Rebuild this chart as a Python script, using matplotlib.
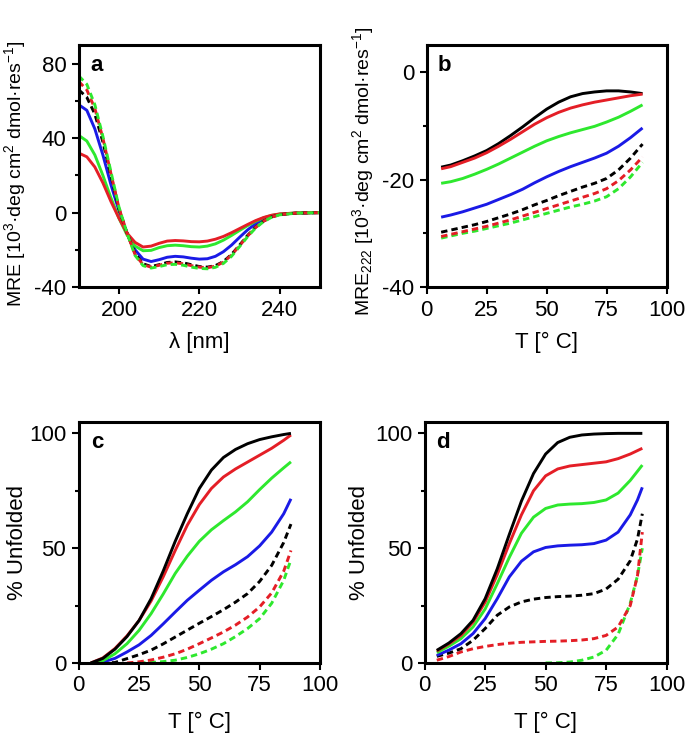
import matplotlib
matplotlib.use("Agg")
import matplotlib.pyplot as plt
from matplotlib.ticker import MultipleLocator

plt.rcParams['font.family'] = ['Liberation Sans', 'DejaVu Sans']
plt.rcParams['mathtext.fontset'] = 'custom'
plt.rcParams['mathtext.rm'] = 'Liberation Sans'
plt.rcParams['mathtext.it'] = 'Liberation Sans:italic'
plt.rcParams['font.size'] = 16
plt.rcParams['axes.unicode_minus'] = False

RED = '#e41e26'
GREEN = '#2ee82e'
BLUE = '#1a1ae6'
BLACK = 'black'

# panel a: CD spectra
wl = [190, 192, 194, 196, 198, 200, 202, 204, 206, 208, 210, 212, 214, 216,
      218, 220, 222, 224, 226, 228, 230, 232, 234, 236, 238, 240, 244, 250]
a_red = [32, 30, 24.5, 16, 6, -3, -11, -16, -18.5, -18, -16.5, -15.3, -15, -15.2,
         -15.6, -15.7, -15.3, -14.3, -12.8, -10.8, -8.6, -6.4, -4.3, -2.6, -1.4, -0.7, -0.2, 0]
a_green = [41.5, 38.5, 31, 20, 8, -3, -12, -18, -20.5, -20.3, -18.8, -17.8, -17.5, -17.8,
           -18.3, -18.5, -18, -16.8, -14.8, -12.3, -9.6, -7, -4.7, -2.8, -1.5, -0.8, -0.2, 0]
a_blue = [58, 55, 45, 31, 15, 1, -11, -20, -25, -26.3, -25.3, -24, -23.5, -23.8,
          -24.5, -25, -24.8, -23.5, -21, -17.5, -13.3, -9.3, -6, -3.5, -1.8, -0.9, -0.3, 0]
a_black_d = [66, 62, 53, 38, 20, 2, -11, -22, -27.5, -29, -28, -26.8, -26.5, -27,
             -28, -29, -29.3, -28.5, -26.3, -22.5, -17.5, -12.3, -7.8, -4.5, -2.3, -1.1, -0.3, 0]
a_red_d = [70.5, 66, 56, 40, 21, 2.5, -11, -22.5, -28, -29.3, -28.3, -27.2, -27, -27.5,
           -28.5, -29.3, -29.6, -28.8, -26.6, -22.8, -17.8, -12.6, -8, -4.6, -2.4, -1.1, -0.3, 0]
a_green_d = [73.5, 69, 58, 41, 22, 3, -11, -23, -28.5, -29.8, -29, -28, -27.8, -28.3,
             -29.3, -30, -30.2, -29.4, -27.3, -23.5, -18.3, -13, -8.3, -4.8, -2.5, -1.2, -0.3, 0]

# panel b: MRE222 vs temperature
tb = [6, 10, 15, 20, 25, 30, 35, 40, 45, 50, 55, 60, 65, 70, 75, 80, 85, 90]
b_black = [-17.7, -17.3, -16.5, -15.6, -14.6, -13.3, -11.8, -10.2, -8.5, -6.9, -5.6, -4.6,
           -4.0, -3.7, -3.5, -3.5, -3.7, -4.0]
b_red = [-18, -17.6, -16.8, -16.0, -15.0, -13.8, -12.5, -11.1, -9.7, -8.5, -7.5, -6.7,
         -6.1, -5.6, -5.2, -4.8, -4.4, -4.1]
b_green = [-20.7, -20.4, -19.8, -19.0, -18.1, -17.1, -16.0, -14.9, -13.8, -12.8, -12.0, -11.3,
           -10.7, -10.1, -9.3, -8.4, -7.3, -6.1]
b_blue = [-27, -26.6, -26.0, -25.3, -24.6, -23.7, -22.8, -21.8, -20.6, -19.5, -18.5, -17.6,
          -16.8, -16.0, -15.1, -13.8, -12.2, -10.4]
b_black_d = [-29.8, -29.4, -28.9, -28.4, -27.8, -27.1, -26.4, -25.6, -24.7, -23.9, -23.0, -22.2,
             -21.4, -20.7, -19.8, -18.2, -16.0, -13.4]
b_red_d = [-30.6, -30.2, -29.7, -29.2, -28.7, -28.1, -27.5, -26.8, -26.1, -25.4, -24.7, -24.0,
           -23.3, -22.6, -21.7, -20.2, -18.2, -15.8]
b_green_d = [-30.9, -30.5, -30.0, -29.6, -29.1, -28.6, -28.1, -27.5, -26.9, -26.3, -25.7, -25.1,
             -24.6, -24.0, -23.2, -21.7, -19.5, -16.8]

# panel c: % unfolded
tc = [5, 10, 15, 20, 25, 30, 35, 40, 45, 50, 55, 60, 65, 70, 75, 80, 85, 88]
c_black = [0, 2, 6, 11.5, 18.5, 28, 40, 53, 65, 76, 84, 89.5, 93, 95.5, 97.3, 98.5, 99.5, 100]
c_red = [0, 2.2, 6.3, 11.8, 18.5, 27, 37.5, 49, 60, 69, 76, 81, 84.5, 87.5, 90.5, 93.5, 97, 99.3]
c_green = [0, 1, 4, 8.4, 14.2, 21.5, 30, 39, 46.5, 53, 58, 62, 65.8, 70.2, 75.5, 80.5, 85, 87.6]
c_blue = [0, 0.4, 2, 4.8, 7.9, 12, 17, 22.2, 27.3, 31.7, 36, 39.7, 42.8, 46.3, 51, 57, 65, 71.5]
c_black_d = [0, 0, 0.2, 1.9, 3.6, 5.6, 8.3, 11.3, 14.3, 17.3, 20.2, 23.2, 26.5, 30.2, 35.5, 42.5, 52.5, 60.5]
tc_red_d = [20, 25, 30, 35, 40, 45, 50, 55, 60, 65, 70, 75, 80, 85, 88]
c_red_d = [0, 0.5, 1.3, 2.5, 4, 6, 8.4, 10.9, 13.5, 16.5, 20, 24.4, 30.5, 40, 49]
tc_green_d = [25, 30, 35, 40, 45, 50, 55, 60, 65, 70, 75, 80, 85, 88]
c_green_d = [0, 0.2, 0.6, 1.2, 2.4, 4, 6, 8.4, 11.5, 15, 19.3, 26, 36, 45]

# panel d: % unfolded
td = [5, 10, 15, 20, 25, 30, 35, 40, 45, 50, 55, 60, 65, 70, 75, 80, 85, 88, 90]
d_black = [5.5, 8.7, 12.8, 18.6, 28, 41, 56, 70.5, 82.5, 91, 96, 98.3, 99.3, 99.7, 99.9, 100, 100, 100, 100]
d_red = [5.2, 8.3, 12, 17.8, 26.5, 38.5, 52, 64.5, 75, 81.5, 84.5, 85.8, 86.4, 87, 87.6, 89, 91, 92.5, 93.5]
d_green = [4.5, 7.3, 10.6, 15.7, 23.5, 34.5, 46, 56.5, 63.5, 67.3, 68.8, 69.2, 69.4, 69.9, 71, 74, 79.5, 83.5, 86.2]
d_blue = [3.3, 5.6, 8.4, 12.8, 19.3, 28, 37.5, 44.3, 48.4, 50.3, 51, 51.3, 51.5, 52, 53.5, 57, 64.5, 71, 76.5]
d_black_d = [2.9, 4.3, 6.2, 9.9, 15, 20.8, 24.4, 26.6, 27.8, 28.5, 28.9, 29.1, 29.5, 30.2, 32.2, 36.5, 44.5, 54, 65]
d_red_d = [1.2, 2.8, 4.8, 6.2, 7.2, 8.0, 8.6, 9.0, 9.2, 9.4, 9.5, 9.7, 10.0, 10.6, 12, 15.7, 25, 38, 57]
td_green_d = [50, 55, 60, 65, 70, 75, 80, 85, 88, 90]
d_green_d = [0, 0.1, 0.4, 1.2, 2.6, 5.5, 12.5, 26, 38, 50]

LW = 2.1
DASH = (2.2, 1.4)

fig = plt.figure(figsize=(6.85, 7.35), dpi=100)
ax_a = fig.add_axes([0.115, 0.6095, 0.352, 0.329])
ax_b = fig.add_axes([0.623, 0.6095, 0.350, 0.329])
ax_c = fig.add_axes([0.115, 0.098, 0.352, 0.328])
ax_d = fig.add_axes([0.620, 0.098, 0.353, 0.328])


def solid(ax, x, y, c):
    ax.plot(x, y, color=c, lw=LW, solid_capstyle='butt', solid_joinstyle='round')


def dashed(ax, x, y, c):
    ax.plot(x, y, color=c, lw=LW, dashes=DASH, dash_capstyle='butt')


def style(ax, letter):
    for s in ax.spines.values():
        s.set_linewidth(2.2)
    ax.tick_params(which='major', direction='out', length=5, width=1.5, labelsize=16, pad=4)
    ax.tick_params(which='minor', direction='out', length=3, width=1.5)
    ax.text(0.075, 0.915, letter, transform=ax.transAxes, fontsize=16,
            fontweight='bold', ha='center', va='center')


# a
solid(ax_a, wl, a_blue, BLUE)
solid(ax_a, wl, a_green, GREEN)
solid(ax_a, wl, a_red, RED)
dashed(ax_a, wl, a_black_d, BLACK)
dashed(ax_a, wl, a_red_d, RED)
dashed(ax_a, wl, a_green_d, GREEN)
ax_a.set_xlim(190, 250)
ax_a.set_ylim(-40, 90)
ax_a.set_xticks([200, 220, 240])
ax_a.set_yticks([-40, 0, 40, 80])
ax_a.yaxis.set_minor_locator(MultipleLocator(20))
ax_a.set_xlabel('λ [nm]', labelpad=8)
ax_a.set_ylabel('MRE [10$^3$·deg cm$^2$ dmol·res$^{-1}$]', fontsize=14)
ax_a.yaxis.set_label_coords(-0.212, 0.47)
style(ax_a, 'a')

# b
dashed(ax_b, tb, b_green_d, GREEN)
dashed(ax_b, tb, b_red_d, RED)
dashed(ax_b, tb, b_black_d, BLACK)
solid(ax_b, tb, b_blue, BLUE)
solid(ax_b, tb, b_green, GREEN)
solid(ax_b, tb, b_black, BLACK)
solid(ax_b, tb, b_red, RED)
ax_b.set_xlim(0, 100)
ax_b.set_ylim(-40, 5)
ax_b.set_xticks([0, 25, 50, 75, 100])
ax_b.set_yticks([-40, -20, 0])
ax_b.yaxis.set_minor_locator(MultipleLocator(10))
ax_b.set_xlabel('T [° C]', labelpad=8)
ax_b.set_ylabel('MRE$_{222}$ [10$^3$·deg cm$^2$ dmol·res$^{-1}$]', fontsize=14)
ax_b.yaxis.set_label_coords(-0.21, 0.48)
style(ax_b, 'b')

# c
dashed(ax_c, tc_green_d, c_green_d, GREEN)
dashed(ax_c, tc_red_d, c_red_d, RED)
dashed(ax_c, tc, c_black_d, BLACK)
solid(ax_c, tc, c_blue, BLUE)
solid(ax_c, tc, c_green, GREEN)
solid(ax_c, tc, c_red, RED)
solid(ax_c, tc, c_black, BLACK)
ax_c.set_xlim(0, 100)
ax_c.set_ylim(0, 105)
ax_c.set_xticks([0, 25, 50, 75, 100])
ax_c.set_yticks([0, 50, 100])
ax_c.yaxis.set_minor_locator(MultipleLocator(25))
ax_c.set_xlabel('T [° C]', labelpad=11)
ax_c.set_ylabel('% Unfolded')
ax_c.yaxis.set_label_coords(-0.21, 0.5)
style(ax_c, 'c')

# d
dashed(ax_d, td_green_d, d_green_d, GREEN)
dashed(ax_d, td, d_red_d, RED)
dashed(ax_d, td, d_black_d, BLACK)
solid(ax_d, td, d_blue, BLUE)
solid(ax_d, td, d_green, GREEN)
solid(ax_d, td, d_red, RED)
solid(ax_d, td, d_black, BLACK)
ax_d.set_xlim(0, 100)
ax_d.set_ylim(0, 105)
ax_d.set_xticks([0, 25, 50, 75, 100])
ax_d.set_yticks([0, 50, 100])
ax_d.yaxis.set_minor_locator(MultipleLocator(25))
ax_d.set_xlabel('T [° C]', labelpad=11)
ax_d.set_ylabel('% Unfolded')
ax_d.yaxis.set_label_coords(-0.225, 0.5)
style(ax_d, 'd')

plt.savefig('out.png', dpi=100)
